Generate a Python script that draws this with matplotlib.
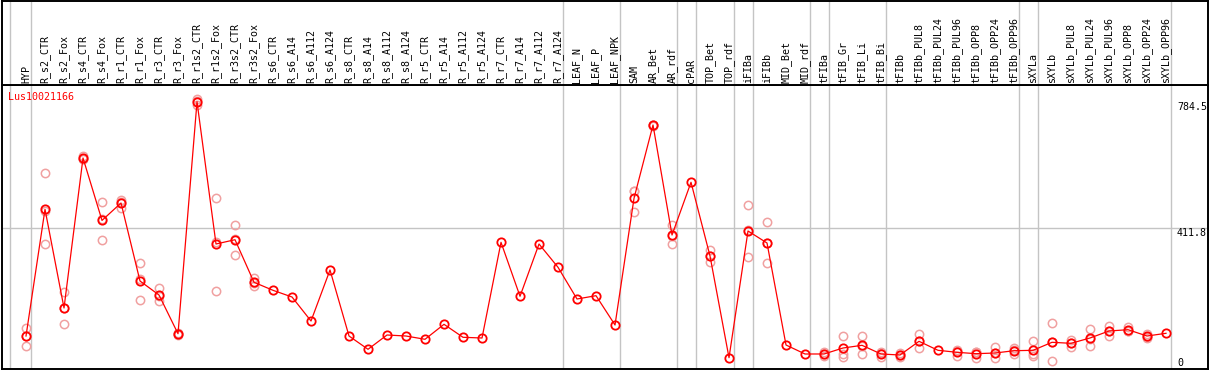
import matplotlib
matplotlib.use("Agg")
import matplotlib.pyplot as plt
import matplotlib.transforms as mtransforms

# Sample names along the x axis
samples = [
    "HYP", "R_s2_CTR", "R_s2_Fox", "R_s4_CTR", "R_s4_Fox", "R_r1_CTR", "R_r1_Fox",
    "R_r3_CTR", "R_r3_Fox", "R_r1s2_CTR", "R_r1s2_Fox", "R_r3s2_CTR", "R_r3s2_Fox",
    "R_s6_CTR", "R_s6_A14", "R_s6_A112", "R_s6_A124", "R_s8_CTR", "R_s8_A14",
    "R_s8_A112", "R_s8_A124", "R_r5_CTR", "R_r5_A14", "R_r5_A112", "R_r5_A124",
    "R_r7_CTR", "R_r7_A14", "R_r7_A112", "R_r7_A124", "LEAF_N", "LEAF_P", "LEAF_NPK",
    "SAM", "AR_Bet", "AR_rdf", "cPAR", "TOP_Bet", "TOP_rdf", "iFIBa", "iFIBb",
    "MID_Bet", "MID_rdf", "tFIBa", "tFIB_Gr", "tFIB_Li", "tFIB_Bi", "tFIBb",
    "tFIBb_PUL8", "tFIBb_PUL24", "tFIBb_PUL96", "tFIBb_OPP8", "tFIBb_OPP24",
    "tFIBb_OPP96", "sXYLa", "sXYLb", "sXYLb_PUL8", "sXYLb_PUL24", "sXYLb_PUL96",
    "sXYLb_OPP8", "sXYLb_OPP24", "sXYLb_OPP96",
]

# Mean expression per sample
means = [
    91.4, 466.3, 174.3, 618.0, 433.4, 484.9, 254.1, 212.7, 98.2, 784.5, 363.6, 376.3,
    250.3, 226.6, 206.8, 135.8, 286.7, 91.4, 52.1, 94.4, 91.4, 81.7, 126.0, 87.6, 85.5,
    368.6, 208.9, 363.6, 294.7, 200.9, 210.7, 124.0, 498.8, 715.7, 390.2, 546.2, 328.1,
    27.2, 402.1, 366.6, 64.8, 38.2, 38.2, 55.9, 63.9, 38.2, 35.2, 75.7, 49.1, 43.2,
    39.1, 41.1, 47.9, 49.1, 72.8, 69.8, 85.5, 106.2, 110.1, 91.4, 99.4,
]

# Individual replicates (empty where none are shown)
replicates = [
    [114.2, 91.4, 63.3], [573.7, 362.7, 462.5], [220.7, 126.9, 175.3], [624.9, 615.0, 614.0],
    [487.9, 375.4, 436.9], [494.7, 471.0, 489.0], [306.5, 197.0, 258.8], [233.4, 194.1, 210.6],
    [101.2, 97.3, 94.4], [792.6, 786.7, 774.2], [498.8, 223.7, 368.3], [418.9, 331.1, 378.9],
    [262.1, 239.3, 249.5], [], [], [], [], [], [], [], [], [], [], [], [], [], [], [], [],
    [], [], [], [520.4, 519.0, 457.4], [714.0, 716.0, 717.0], [419.8, 363.6, 387.3], [],
    [345.9, 309.5, 329.0], [], [478.1, 324.3, 404.0], [427.8, 306.5, 365.5], [], [],
    [44.1, 38.2, 32.2], [91.4, 38.2, 30.2], [91.4, 38.2, 61.8], [43.2, 30.2, 41.1],
    [40.2, 30.2, 35.2], [96.4, 55.0, 75.7], [], [50.9, 33.1, 45.6], [45.0, 27.2, 45.0],
    [58.0, 25.4, 39.9], [55.9, 38.2, 50.0], [76.6, 33.1, 37.7], [129.0, 16.6, 72.8],
    [79.6, 59.8, 70.0], [111.2, 61.8, 83.4], [121.9, 90.5, 106.2], [117.2, 107.1, 106.0],
    [98.2, 86.4, 89.6], [],
]

# Group separators (drawn just right of these sample positions)
separators = [-0.82, 0.24, 28.24, 31.24, 34.24, 35.24, 37.24, 38.24, 41.24, 42.24,
              45.24, 52.24, 53.24, 60.24]

gene = "Lus10021166"
ref_values = [784.5, 411.8]

W, H = 1209, 370
fig = plt.figure(figsize=(W / 100, H / 100), dpi=100)
fig.patch.set_facecolor("white")

mono = "DejaVu Sans Mono"
fs = 7.2
grey = "#c4c4c4"

# Plot area and header strip with the rotated sample names
ax = fig.add_axes([1.5 / W, 1 / H, 1206.5 / W, 284 / H])
hdr = fig.add_axes([1.5 / W, 285 / H, 1206.5 / W, 84.5 / H], sharex=ax)

xs = list(range(len(samples)))
ax.set_xlim(-1.29, 62.21)
ax.set_ylim(-6.2, 834)

for a in (ax, hdr):
    a.set_xticks([])
    a.set_yticks([])
    for s in a.spines.values():
        s.set_linewidth(1.4)
        s.set_color("black")
    for sx in separators:
        a.axvline(sx, color=grey, lw=1.0, zorder=0)

ax.axhline(ref_values[1], color=grey, lw=1.0, zorder=0)

# Replicates in light red behind the mean line
for x, reps in zip(xs, replicates):
    if reps:
        ax.plot([x] * len(reps), reps, "o", ms=6, mfc="none", mec="#f0a0a0", mew=1.1,
                linestyle="None", zorder=2)

ax.plot(xs, means, color="red", lw=0.9, marker="o", ms=6, mfc="none", mec="red",
        mew=1.3, zorder=3)

# Sample names in the header
trans = mtransforms.blended_transform_factory(hdr.transData, hdr.transAxes)
for x, name in zip(xs, samples):
    hdr.text(x, 0.025, name, rotation=90, ha="center", va="bottom", fontsize=fs,
             family=mono, transform=trans)

# Value labels on the right
for v in ref_values:
    ax.text(60.58, v, f"{v}", ha="left", va="top", fontsize=fs, family=mono)
ax.text(60.58, -3, "0", ha="left", va="bottom", fontsize=fs, family=mono)

ax.text(6.5 / 1206.5, 0.975, gene, transform=ax.transAxes, ha="left", va="top",
        fontsize=fs, family=mono, color="red")

fig.savefig("out.png", dpi=100, facecolor="white")
